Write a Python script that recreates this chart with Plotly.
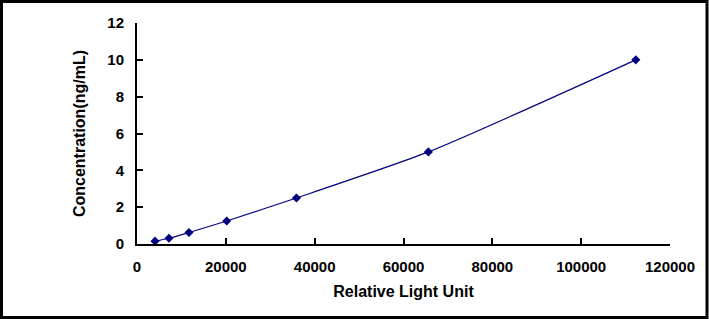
import plotly.graph_objects as go

rlu = [4050, 7200, 11700, 20200, 35900, 65600, 112300]
conc = [0.156, 0.312, 0.625, 1.25, 2.5, 5, 10]
x_ticks = [0, 20000, 40000, 60000, 80000, 100000, 120000]
y_ticks = [0, 2, 4, 6, 8, 10, 12]

W, H = 709, 319
L, R, T, B = 137, 39, 23, 75
pw, ph = W - L - R, H - T - B

FONT = "Liberation Sans, Arial"

fig = go.Figure()
fig.add_trace(go.Scatter(
    x=rlu, y=conc, mode="lines+markers",
    line=dict(color="#000080", width=1.2, shape="spline", smoothing=0.6),
    marker=dict(symbol="diamond", size=7, color="#000080"),
    showlegend=False,
))

axis_common = dict(
    showgrid=False, zeroline=False, showline=True, linecolor="black", linewidth=2,
    ticks="inside", ticklen=6, tickwidth=2, tickcolor="black",
    tickfont=dict(family=FONT, size=15, color="black"),
)
fig.update_xaxes(range=[0, 120000], tickvals=x_ticks, ticktext=[f"<b>{v}</b>" for v in x_ticks],
                 ticklabelstandoff=8,
                 title=dict(text="<b>Relative Light Unit</b>", font=dict(family=FONT, size=16, color="black"), standoff=12),
                 **axis_common)
fig.update_yaxes(range=[0, 12], tickvals=y_ticks, ticktext=[f"<b>{v}</b>" for v in y_ticks],
                 ticklabelstandoff=8,
                 title=dict(text="<b>Concentration(ng/mL)</b>", font=dict(family=FONT, size=16, color="black"), standoff=18),
                 **axis_common)

fig.add_shape(type="rect", xref="paper", yref="paper",
              x0=(1.5 - L) / pw, x1=(W - 2 - L) / pw,
              y0=-(H - 1.5 - T - ph) / ph, y1=(H - B - 1.5) / ph,
              line=dict(color="black", width=3), fillcolor="rgba(0,0,0,0)")

fig.update_layout(width=W, height=H, margin=dict(l=L, r=R, t=T, b=B),
                  plot_bgcolor="white", paper_bgcolor="white")
fig.write_html("out.html")
